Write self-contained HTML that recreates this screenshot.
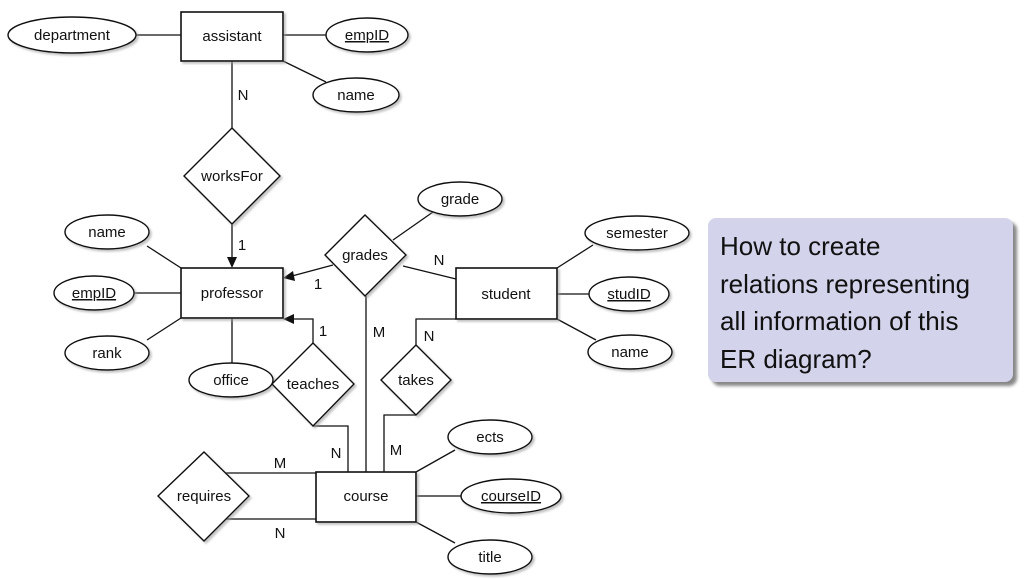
<!DOCTYPE html>
<html><head><meta charset="utf-8"><style>
html,body{margin:0;padding:0;background:#fff;width:1035px;height:579px;overflow:hidden}
svg{position:absolute;left:0;top:0}
text{font-family:"Liberation Sans","DejaVu Sans",sans-serif;font-size:15px;fill:#111}
.box{position:absolute;left:708px;top:218px;width:305px;height:164px;background:#d3d3ec;border-radius:8px;box-shadow:4px 4px 3px #888;box-sizing:border-box;padding:10px 0 0 12px;font-family:"Liberation Sans","DejaVu Sans",sans-serif;font-size:26px;line-height:37.5px;color:#111}
</style></head><body>
<svg width="1035" height="579" viewBox="0 0 1035 579">
<defs><filter id="sh" x="-20%" y="-20%" width="150%" height="150%"><feDropShadow dx="2" dy="2" stdDeviation="1" flood-color="#999" flood-opacity="0.6"/></filter></defs>
<g stroke="#111" stroke-width="1.3" fill="none">
<line x1="136" y1="35" x2="181" y2="35"/>
<line x1="283" y1="35" x2="326" y2="35"/>
<line x1="283" y1="61" x2="326" y2="82"/>
<line x1="232" y1="61" x2="232" y2="128"/>
<line x1="232" y1="224" x2="232" y2="258"/>
<line x1="147" y1="246" x2="181" y2="268"/>
<line x1="134" y1="293" x2="181" y2="293"/>
<line x1="147" y1="340" x2="181" y2="318"/>
<line x1="232" y1="318" x2="232" y2="363"/>
<line x1="333" y1="265" x2="292" y2="276"/>
<line x1="393" y1="240" x2="433" y2="212"/>
<line x1="403" y1="266" x2="456" y2="279"/>
<line x1="366" y1="296" x2="366" y2="472"/>
<polyline points="456,319 416,319 416,345"/>
<polyline points="416,415 384,415 384,472"/>
<polyline points="313,343 313,319 292,319"/>
<polyline points="313,426 348,426 348,472"/>
<line x1="557" y1="268" x2="593" y2="245"/>
<line x1="557" y1="294" x2="589" y2="294"/>
<line x1="557" y1="319" x2="596" y2="340"/>
<line x1="416" y1="472" x2="455" y2="450"/>
<line x1="416" y1="496" x2="461" y2="496"/>
<line x1="416" y1="522" x2="455" y2="543"/>
<line x1="226" y1="473" x2="316" y2="473"/>
<line x1="226" y1="519" x2="316" y2="519"/>
</g>
<g fill="#111">
<polygon points="232,268 227,257 237,257"/>
<polygon points="283,278 293,271 295,281"/>
<polygon points="283,319 294,314 294,324"/>
</g>
<g stroke="#111" stroke-width="1.6" fill="#fff" filter="url(#sh)">
<rect x="181" y="12" width="102" height="49"/>
<rect x="181" y="268" width="102" height="50"/>
<rect x="456" y="268" width="101" height="51"/>
<rect x="316" y="472" width="100" height="50"/>
</g>
<g stroke="#111" stroke-width="1.4" fill="#fff" filter="url(#sh)">
<polygon points="232,128 280,176 232,224 184,176"/>
<polygon points="365,215 406,255 365,296 325,255"/>
<polygon points="416,345 451,380 416,415 381,380"/>
<polygon points="313,343 354,384 313,426 272,384"/>
<polygon points="204,452 249,496 204,541 158,496"/>
<ellipse cx="72" cy="35" rx="64" ry="18"/>
<ellipse cx="367" cy="35" rx="41" ry="17"/>
<ellipse cx="356" cy="95" rx="43" ry="17"/>
<ellipse cx="107" cy="232" rx="42" ry="17"/>
<ellipse cx="94" cy="293" rx="40" ry="17"/>
<ellipse cx="107" cy="353" rx="42" ry="17"/>
<ellipse cx="231" cy="380" rx="42" ry="17"/>
<ellipse cx="460" cy="199" rx="42" ry="17"/>
<ellipse cx="637" cy="233" rx="52" ry="17"/>
<ellipse cx="629" cy="294" rx="40" ry="17"/>
<ellipse cx="630" cy="352" rx="42" ry="17"/>
<ellipse cx="490" cy="437" rx="42" ry="17"/>
<ellipse cx="511" cy="496" rx="50" ry="17"/>
<ellipse cx="490" cy="557" rx="42" ry="17"/>
</g>
<g text-anchor="middle">
<text x="232" y="41">assistant</text>
<text x="72" y="40">department</text>
<text x="367" y="40" text-decoration="underline">empID</text>
<text x="356" y="100">name</text>
<text x="232" y="181">worksFor</text>
<text x="232" y="298">professor</text>
<text x="107" y="237">name</text>
<text x="94" y="298" text-decoration="underline">empID</text>
<text x="107" y="358">rank</text>
<text x="231" y="385">office</text>
<text x="365" y="260">grades</text>
<text x="460" y="204">grade</text>
<text x="506" y="299">student</text>
<text x="637" y="238">semester</text>
<text x="629" y="299" text-decoration="underline">studID</text>
<text x="630" y="357">name</text>
<text x="416" y="385">takes</text>
<text x="313" y="389">teaches</text>
<text x="366" y="501">course</text>
<text x="204" y="501">requires</text>
<text x="490" y="442">ects</text>
<text x="511" y="501" text-decoration="underline">courseID</text>
<text x="490" y="562">title</text>
<text x="243" y="100">N</text>
<text x="242" y="250">1</text>
<text x="318" y="289">1</text>
<text x="439" y="265">N</text>
<text x="379" y="337">M</text>
<text x="323" y="336">1</text>
<text x="429" y="341">N</text>
<text x="336" y="458">N</text>
<text x="396" y="455">M</text>
<text x="280" y="468">M</text>
<text x="280" y="538">N</text>
</g>
</svg>
<div class="box">How to create<br>relations representing<br>all information of this<br>ER diagram?</div>
</body></html>
